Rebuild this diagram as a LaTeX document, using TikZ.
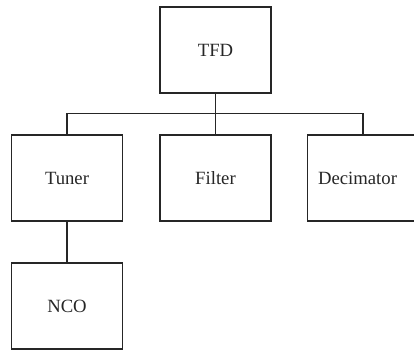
\documentclass[tikz,border=0pt]{standalone}
\usepackage{fontspec}
\setmainfont{Liberation Serif}
\begin{document}
\begin{tikzpicture}[x=1pt,y=-1pt,
  box/.style={draw=black!85, line width=1.1pt, minimum width=111pt, minimum height=86pt, inner sep=0pt, font=\fontsize{18.7}{22}\selectfont, text=black!85},
  lbl/.style={font=\fontsize{18.7}{22}\selectfont, text=black!85, inner sep=0pt},
  wire/.style={draw=black!85, line width=1.1pt}]
\useasboundingbox (0,0) rectangle (414,350);
\clip (0,0) rectangle (414,350);
\node[box] (tfd) at (215.5,50) {TFD};
\node[box] (tuner) at (67,178) {Tuner};
\node[box] (filter) at (215.5,178) {Filter};
\node[box, label={[lbl, xshift=-5.5pt]center:Decimator}] (dec) at (363,178) {};
\node[box] (nco) at (67,306) {NCO};
\draw[wire] (tfd.south) -- (filter.north);
\draw[wire] (tuner.north) -- ++(0,-21) -| (dec.north);
\draw[wire] (tuner.south) -- (nco.north);
\end{tikzpicture}
\end{document}
